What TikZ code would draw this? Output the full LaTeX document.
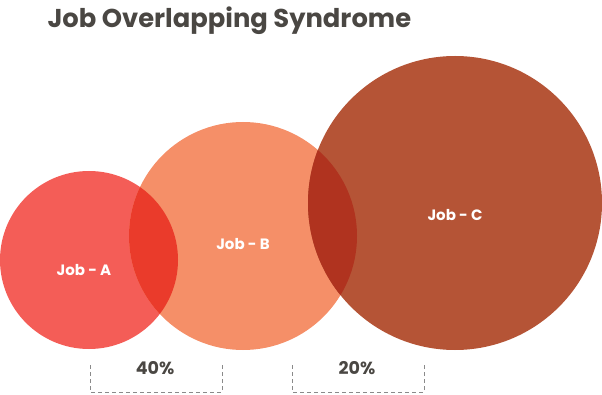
\documentclass[tikz,border=0pt]{standalone}
\usepackage{fontspec}
\setmainfont{Poppins}
\definecolor{ca}{HTML}{F45D57}
\definecolor{cb}{HTML}{F58F68}
\definecolor{cc}{HTML}{B55436}
\definecolor{cab}{HTML}{EA3B2B}
\definecolor{cbc}{HTML}{B0331F}
\definecolor{ttl}{HTML}{4A4743}
\definecolor{brk}{HTML}{8A8A8A}
\tikzset{
  jobtxt/.style={text=white, font=\bfseries\fontsize{15}{18}\selectfont},
  pcttxt/.style={text=ttl, font=\bfseries\fontsize{17.5}{20}\selectfont},
  bracket/.style={draw=brk, dashed, line width=0.9pt, dash pattern=on 4pt off 3pt}
}
\begin{document}
\begin{tikzpicture}[x=1pt,y=-1pt]
\useasboundingbox (0,0) rectangle (602,395);
\fill[ca] (89,260) circle (89);
\fill[cb] (243,236) circle (114);
\fill[cc] (455,203) circle (147);
\begin{scope}
\clip (89,260) circle (89);
\fill[cab] (243,236) circle (114);
\end{scope}
\begin{scope}
\clip (455,203) circle (147);
\fill[cbc] (243,236) circle (114);
\end{scope}
\node[anchor=west, text=ttl, font=\bfseries\fontsize{25.8}{30}\selectfont] (title) at (44,21) {Job Overlapping Syndrome};
\node[jobtxt] (ja) at (84,270) {Job - A};
\node[jobtxt] (jb) at (243,244) {Job - B};
\node[jobtxt] (jc) at (455,215) {Job - C};
\coordinate (b1a) at (90,365);
\coordinate (b1b) at (90,392);
\coordinate (b1c) at (222,392);
\coordinate (b1d) at (222,365);
\coordinate (b2a) at (292,365);
\coordinate (b2b) at (292,392);
\coordinate (b2c) at (424,392);
\coordinate (b2d) at (424,365);
\draw[bracket] (b1a) -- (b1b) -- (b1c) -- (b1d);
\draw[bracket] (b2a) -- (b2b) -- (b2c) -- (b2d);
\node[pcttxt] (p1) at (155,368) {40\%};
\node[pcttxt] (p2) at (357,368) {20\%};
\end{tikzpicture}
\end{document}
